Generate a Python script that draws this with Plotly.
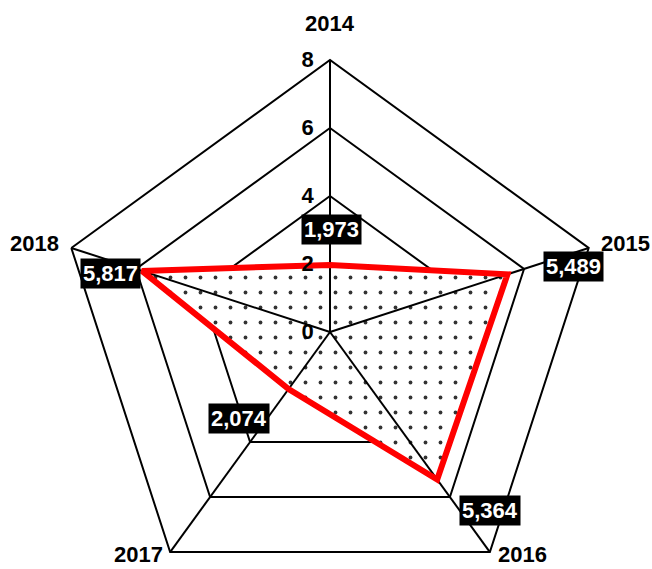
import plotly.graph_objects as go
import math

# ---- data ----
years = ["2014", "2015", "2016", "2017", "2018"]
values = [1.973, 5.489, 5.364, 2.074, 5.817]
value_labels = ["1,973", "5,489", "5,364", "2,074", "5,817"]
radial_ticks = [0, 2, 4, 6, 8]
radial_max = 8

# label offsets in pixels (styling)
label_dx = [1, 66, 53, -50, -31]
label_dy = [35, 8, -31, -29, -3]
cat_dx = [0, 37, 33, -32, -37]
cat_dy = [37, 4, -2, -2, 4]

FONT = "Liberation Sans, Arial, sans-serif"
FS = 22

n = len(years)
angles = [2 * math.pi * i / n for i in range(n)]


def to_xy(rs):
    xs = [r * math.sin(a) for r, a in zip(rs, angles)]
    ys = [r * math.cos(a) for r, a in zip(rs, angles)]
    return xs + [xs[0]], ys + [ys[0]]


fig = go.Figure()

# inner polygon grid rings (under the fill), on helper cartesian axes matching the polar frame
for t in radial_ticks[1:-1]:
    gx, gy = to_xy([t] * n)
    fig.add_trace(go.Scatter(x=gx, y=gy, mode="lines", line=dict(color="black", width=2),
                             hoverinfo="skip", showlegend=False))

# dotted fill
fx, fy = to_xy(values)
fig.add_trace(go.Scatter(
    x=fx, y=fy, mode="lines", fill="toself",
    line=dict(width=0, color="rgba(0,0,0,0)"),
    fillpattern=dict(shape=".", size=15, solidity=0.05, fgcolor="#333333",
                     fgopacity=1, bgcolor="white"),
    hoverinfo="skip", showlegend=False,
))

# red outline (polar)
fig.add_trace(go.Scatterpolar(
    r=values + [values[0]], theta=years + [years[0]], mode="lines",
    line=dict(color="#ff0000", width=6), hoverinfo="skip", showlegend=False,
))

# value labels
for i, (v, lab) in enumerate(zip(values, value_labels)):
    fig.add_annotation(
        x=v * math.sin(angles[i]), y=v * math.cos(angles[i]), xref="x", yref="y",
        text="<b>" + lab + "</b>", showarrow=False,
        xshift=label_dx[i], yshift=label_dy[i],
        font=dict(family=FONT, size=FS, color="white"),
        bgcolor="black", borderpad=2,
    )

# category labels at the outer vertices
for i, y in enumerate(years):
    fig.add_annotation(
        x=radial_max * math.sin(angles[i]), y=radial_max * math.cos(angles[i]),
        xref="x", yref="y", text="<b>" + y + "</b>", showarrow=False,
        xshift=cat_dx[i], yshift=cat_dy[i],
        font=dict(family=FONT, size=FS, color="black"),
    )

fig.update_layout(
    width=652, height=620,
    margin=dict(l=58, r=50, t=60, b=16),
    paper_bgcolor="white", plot_bgcolor="rgba(0,0,0,0)",
    xaxis=dict(range=[-radial_max, radial_max], visible=False, domain=[0, 1], fixedrange=True),
    yaxis=dict(range=[-radial_max, radial_max], visible=False, domain=[0, 1], fixedrange=True),
    polar=dict(
        domain=dict(x=[0, 1], y=[0, 1]),
        gridshape="linear",
        bgcolor="rgba(0,0,0,0)",
        radialaxis=dict(
            range=[0, radial_max], tickvals=radial_ticks,
            ticktext=["<b>%d</b>" % t for t in radial_ticks],
            angle=90, tickangle=90, showline=False,
            ticks="outside", ticklen=8, tickcolor="rgba(0,0,0,0)", showgrid=False,
            tickfont=dict(family=FONT, size=FS, color="black"),
            side="counterclockwise",
        ),
        angularaxis=dict(
            type="category", categoryarray=years, direction="clockwise", rotation=90,
            showline=True, linecolor="black", linewidth=2,
            showgrid=True, gridcolor="black", gridwidth=2,
            ticks="", showticklabels=False,
        ),
    ),
    showlegend=False,
)

post = ("var gd=document.getElementById('{plot_id}');"
        "document.body.style.margin='0';document.body.style.overflow='hidden';"
        "gd.parentElement.style.height='569px';gd.parentElement.style.overflow='hidden';")
fig.write_html("out.html", post_script=post, config={"displayModeBar": False})
